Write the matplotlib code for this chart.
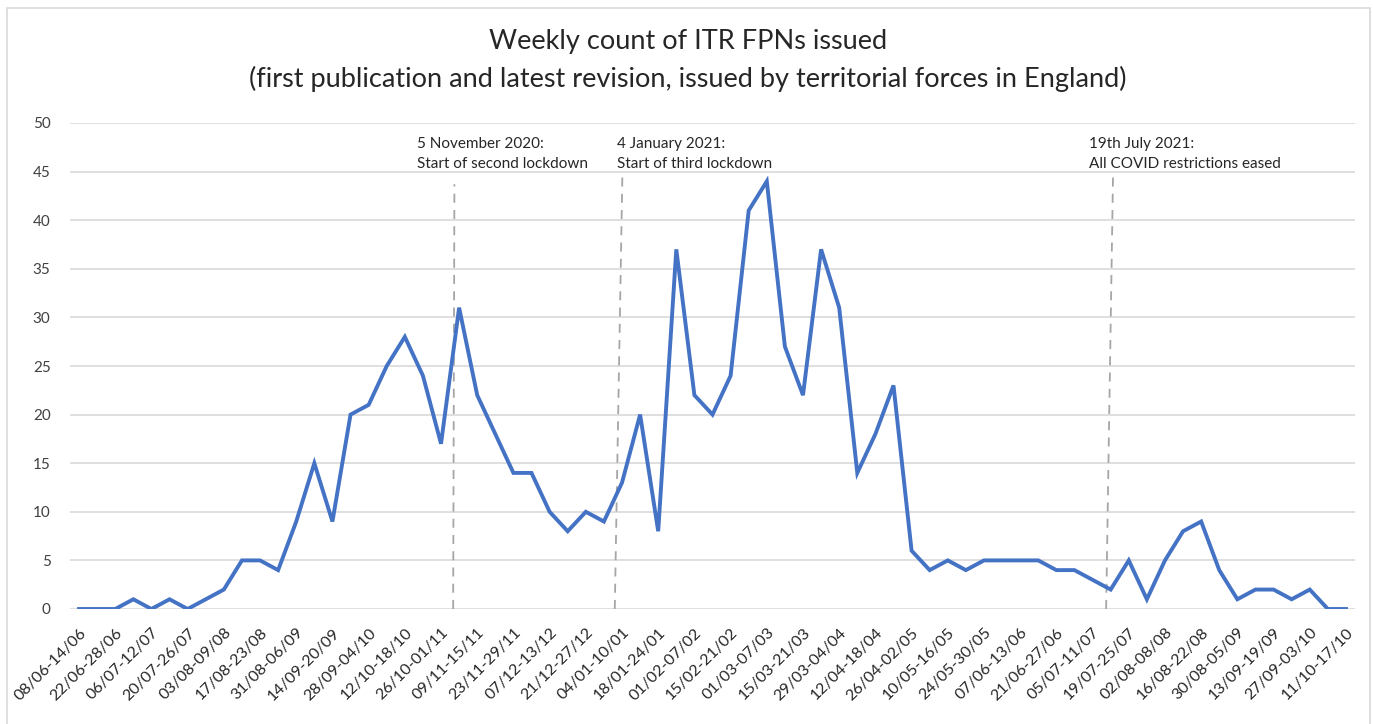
import matplotlib
matplotlib.use("Agg")
import matplotlib.pyplot as plt
from matplotlib.patches import Rectangle

plt.rcParams['font.family'] = ['Lato', 'DejaVu Sans']

# weekly counts, 08/06/2020 .. 17/10/2021
counts = [0, 0, 0, 1, 0, 1, 0, 1, 2, 5, 5, 4, 9, 15, 9, 20, 21, 25, 28, 24, 17,
          31, 22, 18, 14, 14, 10, 8, 10, 9, 13, 20, 8, 37, 22, 20, 24, 41, 44, 27,
          22, 37, 31, 14, 18, 23, 6,
          4, 5, 4, 5, 5, 5, 5, 4, 4, 3, 2, 5, 1, 5, 8, 9, 4, 1, 2, 2, 1, 2, 0, 0]

# every other week is labelled on the axis
week_labels = ['08/06-14/06', '22/06-28/06', '06/07-12/07', '20/07-26/07', '03/08-09/08',
               '17/08-23/08', '31/08-06/09', '14/09-20/09', '28/09-04/10', '12/10-18/10',
               '26/10-01/11', '09/11-15/11', '23/11-29/11', '07/12-13/12', '21/12-27/12',
               '04/01-10/01', '18/01-24/01', '01/02-07/02', '15/02-21/02', '01/03-07/03',
               '15/03-21/03', '29/03-04/04', '12/04-18/04', '26/04-02/05', '10/05-16/05',
               '24/05-30/05', '07/06-13/06', '21/06-27/06', '05/07-11/07', '19/07-25/07',
               '02/08-08/08', '16/08-22/08', '30/08-05/09', '13/09-19/09', '27/09-03/10',
               '11/10-17/10']

# event markers: (x at bottom, x at top, top value, label x, label)
events = [
    (20.67, 20.74, 43.7, 18.65, '5 November 2020:\nStart of second lockdown'),
    (29.60, 30.02, 44.6, 29.74, '4 January 2021:\nStart of third lockdown'),
    (56.75, 57.13, 44.6, 55.81, '19th July 2021:\nAll COVID restrictions eased'),
]

fig = plt.figure(figsize=(13.73, 7.24), dpi=100)
ax = fig.add_axes([70/1373, 1-609/724, (1355-70)/1373, (609-123)/724])

# chart border
fig.patches.append(Rectangle((7/1373, -0.02), (1370-7)/1373, 1-8/724+0.02,
                             transform=fig.transFigure, fill=False,
                             edgecolor='#d9d9d9', linewidth=1.2))

ax.plot(range(len(counts)), counts, color='#4472C4', linewidth=2.8,
        solid_joinstyle='miter', zorder=3)

for xb, xt, top, tx, txt in events:
    ax.plot([xb, xt], [0, top], color='#a6a6a6', linewidth=1.3,
            linestyle=(0, (5, 4)), zorder=2)
    ax.text(tx, 46.8, txt, fontsize=11, color='#262626', ha='left', va='center',
            linespacing=1.5)

ax.set_xlim(-0.5, len(counts) - 0.5)
ax.set_ylim(0, 50)
ax.set_yticks(range(0, 51, 5))
ax.set_xticks(range(0, len(counts), 2))
ax.set_xticklabels(week_labels, rotation=45, ha='right', rotation_mode='anchor',
                   fontsize=11.5, color='#262626')
ax.tick_params(axis='x', length=0, pad=12)
ax.tick_params(axis='y', length=0, pad=14, labelsize=11, labelcolor='#404040')
ax.grid(axis='y', color='#d9d9d9', linewidth=1.2)
ax.set_axisbelow(True)
for s in ax.spines.values():
    s.set_visible(False)

fig.text(0.501, 1-42/724, 'Weekly count of ITR FPNs issued', ha='center', va='center',
         fontsize=19.5, color='#262626')
fig.text(0.501, 1-79/724,
         '(first publication and latest revision, issued by territorial forces in England)',
         ha='center', va='center', fontsize=19.5, color='#262626')

fig.savefig('out.png', dpi=100)
